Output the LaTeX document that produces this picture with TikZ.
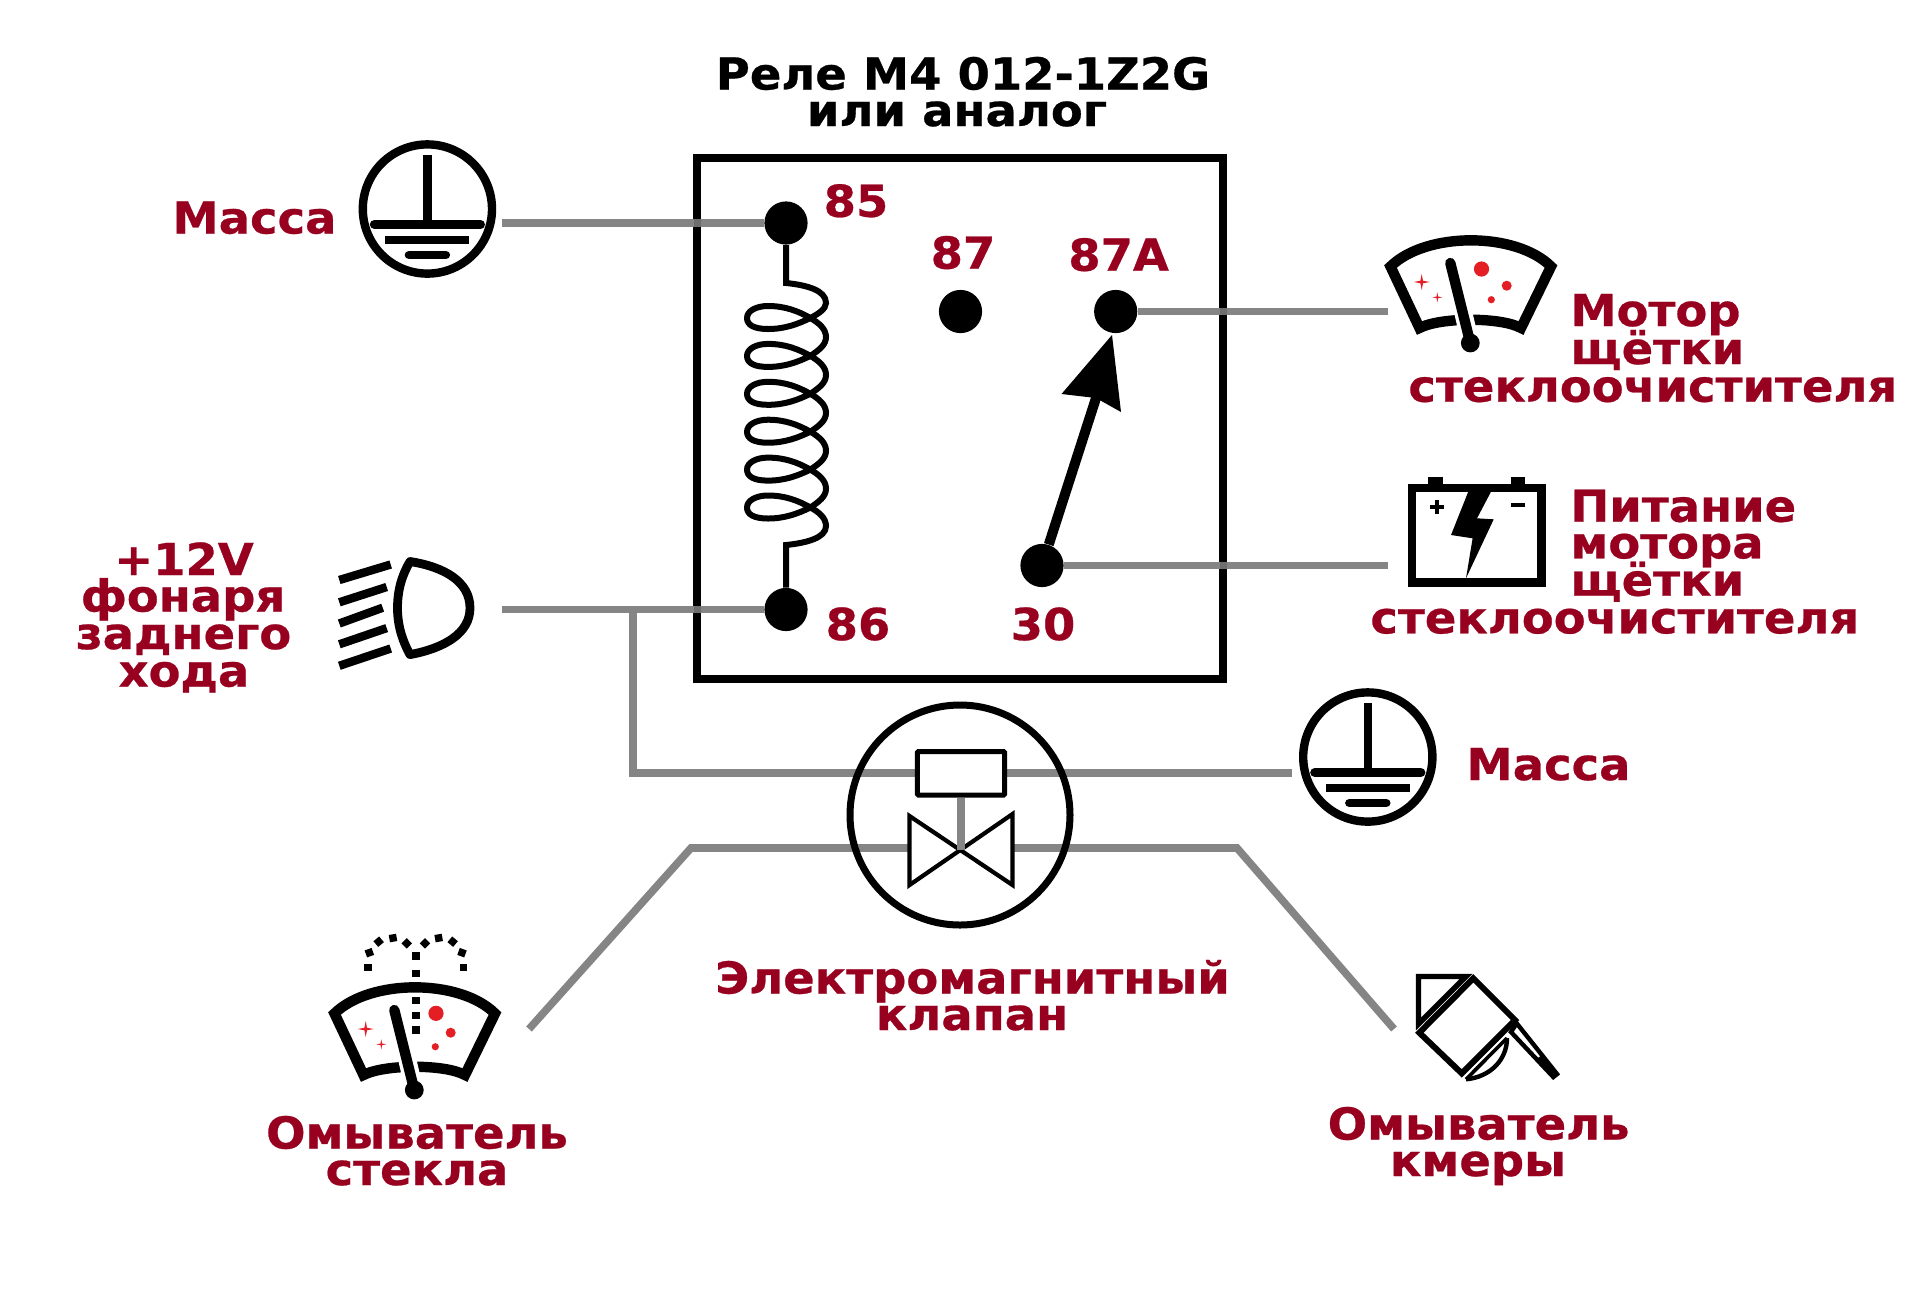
\documentclass[tikz,border=0pt]{standalone}
\usepackage{fontspec}
\setmainfont{DejaVu Sans}[BoldFeatures={FakeStretch=1.055,FakeBold=0.6}]
\definecolor{lblred}{HTML}{97001E}
\definecolor{wiregray}{HTML}{858585}
\definecolor{wiredark}{HTML}{6E6E6E}
\definecolor{spotred}{HTML}{E31E24}
\newcommand\sparklemark[3]{\fill[spotred] (#1,#2-#3) -- (#1+.16*#3,#2-.16*#3) -- (#1+#3,#2) -- (#1+.16*#3,#2+.16*#3) -- (#1,#2+#3) -- (#1-.16*#3,#2+.16*#3) -- (#1-#3,#2) -- (#1-.16*#3,#2-.16*#3) -- cycle;}
\tikzset{
  wire/.style={draw=wiregray,line width=3.8pt},
  blk/.style={draw=black,line width=#1},
  termdot/.style={circle,fill=black,inner sep=0pt,minimum size=21.6pt},
  lbl/.style={inner sep=0pt,anchor=base,text=lblred,font=\fontsize{22pt}{22pt}\selectfont\bfseries},
  lblw/.style={lbl,anchor=base west},
  ttl/.style={lbl,text=black},
  groundsym/.pic={
    \draw[blk=4.2pt] (0,0) circle[radius=32.3pt];
    \draw[blk=4.2pt] (0,-54) -- (0,12);
    \draw[blk=4.6pt,line cap=round] (-53,15.5) -- (53,15.5);
    \draw[blk=4.4pt] (-42,31) -- (42,31);
    \draw[blk=4.2pt,line cap=round] (-18.5,46) -- (18.5,46);
  },
  wipersym/.pic={
    \draw[blk=5.2pt,miter limit=10] (-80.5,-26.5) .. controls (-45,-61.4) and (45,-61.4) .. (80,-26.5)
      -- (50,35) .. controls (30,24) and (-30,24) .. (-51.5,35) -- cycle;
    \draw[white,line width=9pt] (-9,14) -- (-3.5,38);
    \draw[blk=5.2pt,line cap=round] (-20.7,-30) -- (-0.7,50);
    \fill (-0.7,50) circle[radius=4.7pt];
    \fill[spotred] (35.7,-7.3) circle[radius=2.5pt];
    \fill[spotred] (20.3,6.7) circle[radius=1.8pt];
    \sparklemark{-49.3}{-11}{8}
    \sparklemark{-33.7}{4.3}{5}
  },
}
\begin{document}
\begin{tikzpicture}[x=0.5pt,y=-0.5pt]
\useasboundingbox[fill=white] (0,0) rectangle (1920,1313);

% relay box
\draw[blk=3.7pt] (697,158) rectangle (1223,679);

% terminals
\node[termdot] (d85) at (786,223) {};
\node[termdot] (d87) at (960.5,311.5) {};
\node[termdot] (d87a) at (1115.7,311.5) {};
\node[termdot] (d30) at (1042,565.5) {};
\node[termdot] (d86) at (786,609.5) {};

% free ends of the wires
\coordinate (wm) at (502,223);
\coordinate (wl) at (502,609.5);
\coordinate (jct) at (633,609.5);
\coordinate (wg) at (1292,773);
\coordinate (wmot) at (1388,311.5);
\coordinate (wbat) at (1388,565.5);
\coordinate (bendl) at (691,848);
\coordinate (bendr) at (1237,848);
\coordinate (endl) at (529,1029);
\coordinate (endr) at (1394,1029);
\coordinate (vl) at (909,848);
\coordinate (vr) at (1013,848);
\coordinate (vc) at (961,850);

% wires
\draw[wire] (wm) -- (d85);
\draw[wire] (wl) -- (d86);
\draw[wire] (d87a) -- (wmot);
\draw[wire] (d30) -- (wbat);
\draw[wire,line join=miter] (jct) |- (wg);
\draw[wire,line join=miter] (endl) -- (bendl) -- (vl);
\draw[wire,line join=miter] (vr) -- (bendr) -- (endr);
\fill[wiredark] (693.5,219.2) rectangle (700.5,226.8);
\fill[wiredark] (693.5,605.7) rectangle (700.5,613.3);
\fill[wiredark] (1219.5,307.7) rectangle (1226.5,315.3);
\fill[wiredark] (1219.5,561.7) rectangle (1226.5,569.3);

% coil
\draw[blk=3pt] (d85) -- (786,283) .. controls (806,285) and (826,290) .. (826,303) .. controls (826,309) and (818,314) .. (810.4,318);
\foreach \i in {0,...,5} {
  \begin{scope}[shift={(0,{\i*37.9})}]
    \draw[blk=3pt,line join=round] (810.4,318) .. controls (798,324) and (785,329) .. (768,329) .. controls (754,329) and (747,325) .. (747,318) .. controls (747,311) and (756,306) .. (768,306) .. controls (785,306) and (798,311) .. (810.4,318);
    \ifnum\i<5
      \draw[blk=3pt] (810.4,318) .. controls (819,323) and (826,329) .. (826,337) .. controls (826,345) and (819,350) .. (810.4,355.9);
    \fi
  \end{scope}
}
\draw[blk=3pt] (810.4,507.5) .. controls (819,512) and (826,518) .. (826,526) .. controls (826,538) and (806,543) .. (786,545) -- (d86);

% switch arm
\coordinate (notch) at (1096,398);
\draw[blk=5pt] (d30) -- (notch);
\fill (1112,335) -- (1121,412) -- (1096,398) -- (1061.5,394) -- cycle;

% valve
\node[circle,draw=black,line width=3.5pt,inner sep=0pt,minimum size=110pt] (valve) at (960,815) {};
\fill[white,draw=black,line width=2.1pt,line join=miter,miter limit=10] (909.5,816) -- (1012.5,885) -- (1012.5,814) -- (909.5,885) -- cycle;
\node[rectangle,draw=black,fill=white,line width=2.5pt,rounded corners=0.5pt,inner sep=0pt,minimum width=43.6pt,minimum height=21.7pt] (sol) at (961,773.3) {};
\draw[wire,line width=4pt] (sol.south) -- (vc);

% grounds
\pic at (427.4,209) {groundsym};
\pic at (1367.8,757) {groundsym};

% lamp
\foreach \a/\b/\c/\d in {339.3/580/390.7/564.5, 339.3/602.3/386.7/587, 339.3/623.5/382.7/607.7, 339.3/644.3/386.7/628.1, 339.3/665.8/390.7/648.5} {
  \draw[blk=4.2pt] (\a,\b) -- (\c,\d);
}
\draw[blk=4.4pt,line join=round] (410,561.5) .. controls (445,567) and (470,582) .. (470,608) .. controls (470,633) and (445,648) .. (410,654.6) .. controls (402,640) and (397.5,625) .. (397.5,608) .. controls (397.5,590) and (402,575) .. cycle;

% wiper icons
\pic at (1471,293) {wipersym};
\pic at (415,1040) {wipersym};
\fill[spotred] (1481.5,269) circle[radius=3.8pt];
\fill[spotred] (436,1013.3) circle[radius=3.8pt];

% washer spray
\foreach \x/\y/\r in {204/203/0, 208/158/20, 236/125/40, 279/114/10, 320/130/45, 348/168/0, 375/130/45, 416/114/10, 458/125/-40, 486/158/-20, 491/203/0, 348/220/0, 348/302/0, 348/346/0, 348/390/0} {
  \fill[shift={(300+\x/3,900+\y/3)},rotate=\r] (-3.7,-3.7) rectangle (3.7,3.7);
}

% battery
\draw[blk=4.4pt,miter limit=10] (1412,488) rectangle (1541.5,582.5);
\fill (1428,476.7) rectangle (1442.6,486);
\fill (1511,476.7) rectangle (1525,486);
\draw[blk=1.9pt] (1429.6,507.3) -- (1444.4,507.3) (1437,500.3) -- (1437,514.3);
\draw[blk=1.9pt] (1510.8,505) -- (1524.8,505);
\fill (1468.9,490) -- (1491.9,490) -- (1477,518.3) -- (1493.7,519.3) -- (1466,578.3) -- (1472.6,538.3) -- (1451,535) -- cycle;

% camera washer
\draw[blk=2.7pt,line join=miter] (1418.5,976.5) -- (1466,976.5) -- (1418.5,1024) -- cycle;
\draw[blk=3pt,line join=miter] (1473.3,978.3) -- (1515,1020) -- (1461.7,1073.3) -- (1419.3,1032.7) -- cycle;
\draw[blk=2.2pt,line join=round] (1466,1079.3) .. controls (1490,1077) and (1507,1060) .. (1507,1038);
\draw[blk=1.8pt] (1466,1079.3) -- (1507,1038);
\draw[blk=2.2pt,line join=miter,miter limit=10] (1516.7,1023.3) -- (1557,1074) -- (1553.3,1077) -- (1511,1032) -- cycle;
\fill (1542,1055) -- (1559,1075) -- (1553.3,1079.3) -- (1535,1060) -- cycle;

% texts
\node[ttl] (t1) at (963,89.5) {Реле М4 012-1Z2G};
\node[ttl] (t2) at (957,126) {или аналог};
\node[lbl] (m1) at (254.5,233.5) {Масса};
\node[lbl] (n85) at (856,216.8) {85};
\node[lbl] (n87) at (963,268.6) {87};
\node[lbl] (n87a) at (1118.6,270.7) {87A};
\node[lbl] (n86) at (858,640) {86};
\node[lbl] (n30) at (1043,640) {30};
\node[lblw] (a1) at (1570,326) {Мотор};
\node[lblw] (a2) at (1570,364) {щётки};
\node[lblw] (a3) at (1408,401.7) {стеклоочистителя};
\node[lblw] (b1) at (1570,521.7) {Питание};
\node[lblw] (b2) at (1570,558.3) {мотора};
\node[lblw] (b3) at (1570,595.7) {щётки};
\node[lblw] (b4) at (1370,633.3) {стеклоочистителя};
\node[lbl] (c1) at (184,575) {+12V};
\node[lbl] (c2) at (183,611.5) {фонаря};
\node[lbl] (c3) at (183.5,649) {заднего};
\node[lbl] (c4) at (184,686.5) {хода};
\node[lbl] (m2) at (1548.5,780) {Масса};
\node[lbl] (e1) at (972.5,993.5) {Электромагнитный};
\node[lbl] (e2) at (972,1030) {клапан};
\node[lbl] (o1) at (417,1148.5) {Омыватель};
\node[lbl] (o2) at (417,1185) {стекла};
\node[lbl] (k1) at (1478.6,1139.5) {Омыватель};
\node[lbl] (k2) at (1478,1176) {кмеры};
\end{tikzpicture}
\end{document}
